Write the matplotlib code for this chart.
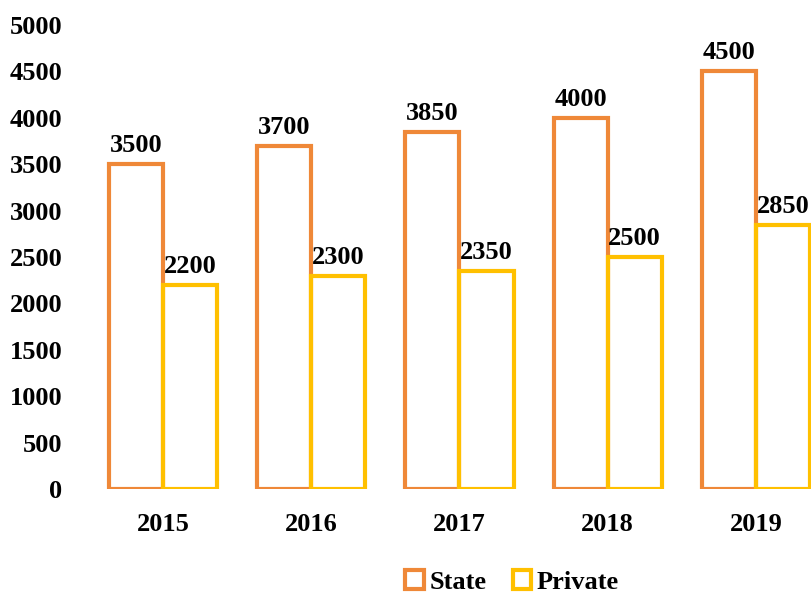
import matplotlib.pyplot as plt
import numpy as np

# data
years = ["2015", "2016", "2017", "2018", "2019"]
state = [3500, 3700, 3850, 4000, 4500]
private = [2200, 2300, 2350, 2500, 2850]
yticks = [0, 500, 1000, 1500, 2000, 2500, 3000, 3500, 4000, 4500, 5000]

orange = "#EF8838"
gold = "#FFC000"

plt.rcParams['font.family'] = ['Liberation Serif', 'DejaVu Serif']
plt.rcParams['font.weight'] = 'bold'

fig = plt.figure(figsize=(8.12, 5.95), dpi=100)
ax = fig.add_axes([89 / 812, 106 / 595, 741 / 812, 464 / 595])

x = np.arange(len(years))
w = 0.365
b1 = ax.bar(x - w / 2, state, w, facecolor='none', edgecolor=orange, linewidth=3, label='State')
b2 = ax.bar(x + w / 2, private, w, facecolor='none', edgecolor=gold, linewidth=3, label='Private')

for bars in (b1, b2):
    ax.bar_label(bars, padding=5, fontsize=19, fontweight='bold')

ax.set_xlim(-0.5, len(years) - 0.5)
ax.set_ylim(0, 5000)
ax.set_xticks(x)
ax.set_xticklabels(years)
ax.set_yticks(yticks)
ax.tick_params(axis='both', length=0, labelsize=19)
ax.tick_params(axis='y', pad=19)
ax.tick_params(axis='x', pad=17)
for s in ax.spines.values():
    s.set_visible(False)

fig.legend(handles=[b1, b2], loc='center', bbox_to_anchor=(512 / 812, 13 / 595), ncol=2,
           frameon=False, fontsize=19, handlelength=0.7, handleheight=0.7,
           handletextpad=0.2, columnspacing=1.0)

fig.savefig('out.png', dpi=100)
